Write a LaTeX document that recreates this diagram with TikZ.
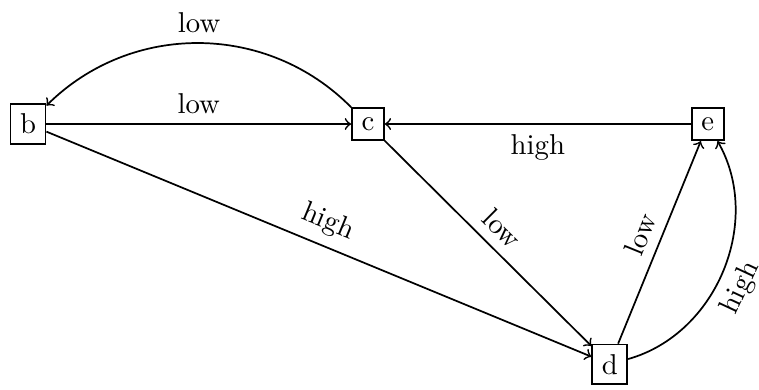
\documentclass[tikz,border=0pt]{standalone}
\usepackage{tikz}

\begin{document}
\begin{tikzpicture}[>=to, semithick, vertex/.style={draw, rectangle}]
			\useasboundingbox (-0.343,-3.244) rectangle (8.947,1.518);
			\node[vertex] (b) at (0,0) {b};
			\node[vertex] (c) at (4.16,0) {c};
			\node[vertex] (e) at (8.32,0) {e};
			\node[vertex] (d) at (7.12,-2.94) {d};
			\draw[->] (b) -- node[above] {low} (c);
			\draw[->] (b) -- node[above, sloped] {high} (d);
			\draw[->] (c) to[bend right=45] node[above] {low} (b);
			\draw[->] (c) -- node[above, sloped] {low} (d);
			\draw[->] (e) -- node[below] {high} (c);
			\draw[->] (d) -- node[above, sloped] {low} (e);
			\draw[->] (d) to[bend right=52] node[below, sloped, pos=0.47] {high} (e);
		\end{tikzpicture}
\end{document}
